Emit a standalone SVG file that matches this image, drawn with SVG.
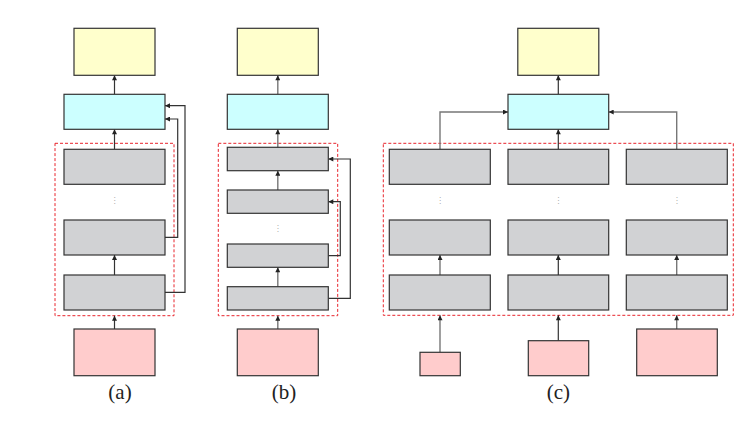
<svg xmlns="http://www.w3.org/2000/svg" width="754" height="433" viewBox="0 0 754 433">
<defs>
<marker id="ah" viewBox="0 0 6 6" refX="6" refY="3" markerWidth="6" markerHeight="5" markerUnits="userSpaceOnUse" orient="auto">
<path d="M0,0 L6,3 L0,6 z" fill="#222"/>
</marker>
<style>
.box{stroke:#333;stroke-width:1.2}
.y{fill:#FFFFCC}.c{fill:#CCFFFF}.g{fill:#D1D2D4}.p{fill:#FFCCCC}
.dash{fill:none;stroke:#E8242C;stroke-width:1;stroke-dasharray:3,2}
.ln{fill:none;stroke:#333;stroke-width:1.2;marker-end:url(#ah)}
.lg{fill:none;stroke:#777;stroke-width:1.4;marker-end:url(#ah)}
.dots{font-family:'DejaVu Sans',sans-serif;font-size:8px;fill:#aaa;text-anchor:middle}
.lab{font-family:'Liberation Serif',serif;font-size:21px;fill:#222;text-anchor:middle}
</style>
</defs>
<rect width="754" height="433" fill="#fff"/>

<g id="containers">
<rect class="dash" x="55" y="143.3" width="119" height="172.4"/>
<rect class="dash" x="218.3" y="143.3" width="119.4" height="172.4"/>
<rect class="dash" x="383.3" y="143.3" width="350" height="172"/>
</g>

<g id="connectors">
<!-- (a) -->
<path class="ln" d="M114.5,94.3 V75.3"/>
<path class="ln" d="M114.5,149.3 V129.3"/>
<path class="ln" d="M114.5,275 V255"/>
<path class="ln" d="M114.5,329 V315.7"/>
<path class="ln" d="M165,237.3 H177.7 V119 H165"/>
<path class="ln" d="M165,292.3 H185 V105.7 H165"/>
<!-- (b) -->
<path class="lg" d="M277.8,94.3 V75.3"/>
<path class="lg" d="M277.8,147.3 V129.3"/>
<path class="lg" d="M277.8,190 V170.7"/>
<path class="lg" d="M277.8,286.7 V267.3"/>
<path class="lg" d="M277.8,329 V315.7"/>
<path class="ln" d="M328.3,255.7 H340.3 V201.7 H328.3"/>
<path class="ln" d="M328.3,298.3 H350.3 V159 H328.3"/>
<!-- (c) -->
<path class="ln" d="M558.3,94.3 V75.3"/>
<path class="ln" d="M558.3,149.3 V129.3"/>
<path class="lg" d="M440,149.3 V112 H508"/>
<path class="lg" d="M676.7,149.3 V112 H608.7"/>
<path class="lg" d="M440,275 V255"/>
<path class="ln" d="M558.3,275 V255"/>
<path class="lg" d="M676.7,275 V255"/>
<path class="lg" d="M440,352.3 V315.3"/>
<path class="ln" d="M558.3,340.7 V315.3"/>
<path class="lg" d="M676.7,329 V315.3"/>
</g>

<!-- panel (a) -->
<g id="a-out"><rect class="box y" x="74" y="28.3" width="81" height="47"/></g>
<g id="a-fuse"><rect class="box c" x="64" y="94.3" width="101" height="35"/></g>
<g id="a-l3"><rect class="box g" x="64" y="149.3" width="101" height="35"/></g>
<g id="a-l2"><rect class="box g" x="64" y="220" width="101" height="35"/></g>
<g id="a-l1"><rect class="box g" x="64" y="275" width="101" height="35"/></g>
<g id="a-in"><rect class="box p" x="74" y="329" width="81" height="46.7"/></g>
<text class="dots" x="114.5" y="203">⋮</text>
<text class="lab" x="120" y="399">(a)</text>

<!-- panel (b) -->
<g id="b-out"><rect class="box y" x="237.3" y="28.3" width="81" height="47"/></g>
<g id="b-fuse"><rect class="box c" x="227.3" y="94.3" width="101" height="35"/></g>
<g id="b-l4"><rect class="box g" x="227.3" y="147.3" width="101" height="23.4"/></g>
<g id="b-l3"><rect class="box g" x="227.3" y="190" width="101" height="23.3"/></g>
<g id="b-l2"><rect class="box g" x="227.3" y="244" width="101" height="23.3"/></g>
<g id="b-l1"><rect class="box g" x="227.3" y="286.7" width="101" height="23.3"/></g>
<g id="b-in"><rect class="box p" x="237.3" y="329" width="81" height="46.7"/></g>
<text class="dots" x="277.8" y="231">⋮</text>
<text class="lab" x="284" y="399">(b)</text>

<!-- panel (c) -->
<g id="c-out"><rect class="box y" x="517.8" y="28.3" width="81" height="47"/></g>
<g id="c-fuse"><rect class="box c" x="508" y="94.3" width="100.7" height="35"/></g>
<g id="c-l1-3"><rect class="box g" x="389.3" y="149.3" width="101" height="35"/></g>
<g id="c-m-3"><rect class="box g" x="508" y="149.3" width="100.7" height="35"/></g>
<g id="c-r-3"><rect class="box g" x="626.3" y="149.3" width="101" height="35"/></g>
<g id="c-l1-2"><rect class="box g" x="389.3" y="220" width="101" height="35"/></g>
<g id="c-m-2"><rect class="box g" x="508" y="220" width="100.7" height="35"/></g>
<g id="c-r-2"><rect class="box g" x="626.3" y="220" width="101" height="35"/></g>
<g id="c-l1-1"><rect class="box g" x="389.3" y="275" width="101" height="35"/></g>
<g id="c-m-1"><rect class="box g" x="508" y="275" width="100.7" height="35"/></g>
<g id="c-r-1"><rect class="box g" x="626.3" y="275" width="101" height="35"/></g>
<g id="c-in-l"><rect class="box p" x="420" y="352.3" width="40.3" height="23.4"/></g>
<g id="c-in-m"><rect class="box p" x="528.3" y="340.7" width="60.4" height="35"/></g>
<g id="c-in-r"><rect class="box p" x="636.7" y="329" width="80.6" height="46.7"/></g>
<text class="dots" x="440" y="203">⋮</text>
<text class="dots" x="558.3" y="203">⋮</text>
<text class="dots" x="676.7" y="203">⋮</text>
<text class="lab" x="558.3" y="399">(c)</text>
</svg>
